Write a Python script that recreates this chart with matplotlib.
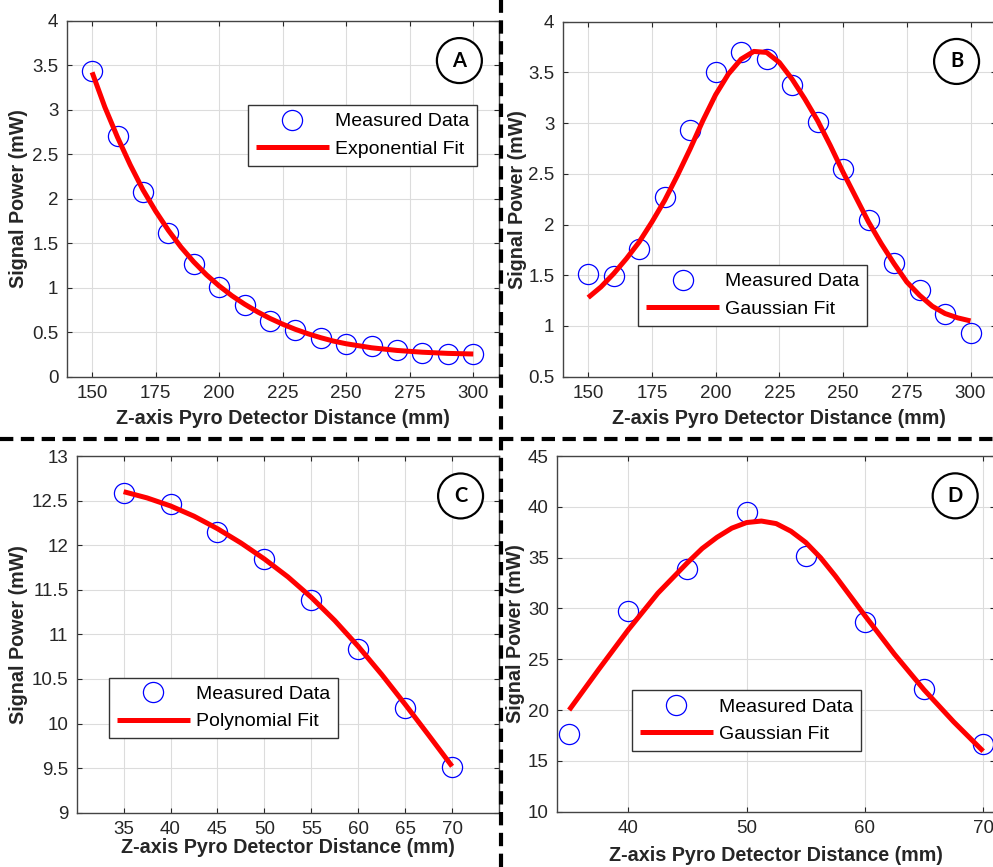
import matplotlib
matplotlib.use("Agg")
import matplotlib.pyplot as plt
from matplotlib.ticker import FormatStrFormatter
from matplotlib.lines import Line2D

plt.rcParams['font.family'] = 'Liberation Sans'

# (A) exponential decay, 150-300 mm
a_dist = [150, 160, 170, 180, 190, 200, 210, 220, 230, 240, 250, 260, 270, 280, 290, 300]
a_meas = [3.43, 2.70, 2.08, 1.62, 1.27, 1.01, 0.81, 0.63, 0.52, 0.44, 0.37, 0.34, 0.30, 0.27, 0.26, 0.255]
a_fit_x = [150, 155, 160, 165, 170, 175, 180, 185, 190, 195, 200, 205, 210, 215, 220, 225,
           230, 235, 240, 245, 250, 260, 270, 280, 290, 300]
a_fit_y = [3.42, 3.03, 2.69, 2.38, 2.10, 1.86, 1.645, 1.455, 1.29, 1.145, 1.02, 0.91, 0.815, 0.73,
           0.655, 0.59, 0.532, 0.482, 0.438, 0.40, 0.37, 0.325, 0.295, 0.275, 0.262, 0.255]

# (B) gaussian, 150-300 mm
b_dist = [150, 160, 170, 180, 190, 200, 210, 220, 230, 240, 250, 260, 270, 280, 290, 300]
b_meas = [1.51, 1.49, 1.76, 2.27, 2.93, 3.50, 3.70, 3.63, 3.375, 3.015, 2.55, 2.04, 1.62, 1.35, 1.12, 0.93]
b_fit_x = [150, 155, 160, 165, 170, 175, 180, 185, 190, 195, 200, 205, 210, 215, 220, 225,
           230, 235, 240, 245, 250, 255, 260, 265, 270, 275, 280, 285, 290, 295, 300]
b_fit_y = [1.28, 1.385, 1.516, 1.664, 1.828, 2.025, 2.238, 2.484, 2.746, 3.025, 3.28, 3.484,
           3.631, 3.707, 3.697, 3.598, 3.434, 3.238, 3.025, 2.779, 2.516, 2.27, 2.025, 1.811,
           1.615, 1.434, 1.303, 1.195, 1.123, 1.08, 1.05]

# (C) polynomial, 35-70 mm
c_dist = [35, 40, 45, 50, 55, 60, 65, 70]
c_meas = [12.58, 12.46, 12.15, 11.845, 11.385, 10.835, 10.17, 9.515]
c_fit_x = [35, 37.5, 40, 42.5, 45, 47.5, 50, 52.5, 55, 57.5, 60, 62.5, 65, 67.5, 70]
c_fit_y = [12.60, 12.53, 12.44, 12.325, 12.185, 12.025, 11.845, 11.645, 11.415, 11.155,
           10.865, 10.55, 10.215, 9.87, 9.52]

# (D) gaussian, 35-70 mm
d_dist = [35, 40, 45, 50, 55, 60, 65, 70]
d_meas = [17.6, 29.75, 33.85, 39.5, 35.15, 28.7, 22.05, 16.65]
d_fit_x = [35, 37.5, 40, 42.5, 45, 46.25, 47.5, 48.75, 50, 51.25, 52.5, 53.75, 55, 56.25,
           57.5, 60, 62.5, 65, 67.5, 70]
d_fit_y = [20.0, 24.0, 27.9, 31.5, 34.5, 35.9, 37.0, 37.9, 38.45, 38.6, 38.35, 37.6, 36.5,
           35.0, 33.2, 29.3, 25.5, 22.0, 18.85, 15.95]

W, H = 993, 867
fig = plt.figure(figsize=(W / 100, H / 100), dpi=100)

def make_axes(l, t, w, h):
    return fig.add_axes([l / W, 1 - (t + h) / H, w / W, h / H])

def style(ax, xlim, xticks, ylim, yticks, ylab_x, xlab_y):
    ax.set_xlim(*xlim)
    ax.set_ylim(*ylim)
    ax.set_xticks(xticks)
    ax.set_yticks(yticks)
    ax.yaxis.set_major_formatter(FormatStrFormatter('%g'))
    ax.grid(True, color='#dcdcdc', lw=0.8)
    ax.set_axisbelow(True)
    ax.tick_params(direction='in', length=3.5, width=0.8, top=True, right=True,
                   labelsize=13.5, labelcolor='#262626', color='#262626', pad=6)
    for s in ax.spines.values():
        s.set_color('#444444')
        s.set_linewidth(1.0)
    ax.set_xlabel('Z-axis Pyro Detector Distance (mm)', fontsize=14.2, fontweight='bold',
                  color='#262626')
    ax.set_ylabel('Signal Power (mW)', fontsize=14.2, fontweight='bold', color='#262626')
    ax.xaxis.set_label_coords(0.5, xlab_y)
    ax.yaxis.set_label_coords(ylab_x, 0.5)

def draw(ax, x, y, fx, fy, fit_label, leg_loc, leg_anchor, tag):
    ax.plot(x, y, 'o', mfc='none', mec='#0000ff', ms=14.5, mew=0.9, label='Measured Data')
    ax.plot(fx, fy, '-', color='#ff0000', lw=3.6, label=fit_label,
            solid_capstyle='butt', solid_joinstyle='round')
    leg = ax.legend(loc=leg_loc, bbox_to_anchor=leg_anchor, fontsize=14, fancybox=False,
                    framealpha=1, edgecolor='#333333', handlelength=3.75, handletextpad=0.3,
                    borderpad=0.4, labelspacing=0.5, borderaxespad=0)
    leg.get_frame().set_linewidth(1.0)
    ax.text(0.909, 0.888, tag, transform=ax.transAxes, ha='center', va='center',
            fontsize=14.5, fontweight='bold', family='Lato', zorder=5,
            bbox=dict(boxstyle='circle,pad=0.62', fc='white', ec='black', lw=1.6))

ax_a = make_axes(66.7, 20.7, 432, 356)
style(ax_a, (140, 310), range(150, 301, 25), (0, 4), [i * 0.5 for i in range(9)], -0.09, -0.092)
draw(ax_a, a_dist, a_meas, a_fit_x, a_fit_y, 'Exponential Fit', 'upper right', (0.949, 0.763), 'A')

ax_b = make_axes(562.7, 21.7, 433.3, 355)
style(ax_b, (140, 310), range(150, 301, 25), (0.5, 4), [0.5 + i * 0.5 for i in range(8)], -0.083, -0.092)
draw(ax_b, b_dist, b_meas, b_fit_x, b_fit_y, 'Gaussian Fit', 'lower left', (0.1745, 0.144), 'B')

ax_c = make_axes(76.7, 456, 422.3, 356.7)
style(ax_c, (30, 75), range(35, 71, 5), (9, 13), [9 + i * 0.5 for i in range(9)], -0.115, -0.07)
draw(ax_c, c_dist, c_meas, c_fit_x, c_fit_y, 'Polynomial Fit', 'lower left', (0.077, 0.209), 'C')

ax_d = make_axes(557.3, 456, 437.7, 355.7)
style(ax_d, (34, 71), range(40, 71, 10), (10, 45), range(10, 46, 5), -0.074, -0.097)
draw(ax_d, d_dist, d_meas, d_fit_x, d_fit_y, 'Gaussian Fit', 'lower left', (0.171, 0.171), 'D')

# dashed separators between the four panels
fig.add_artist(Line2D([501 / W, 501 / W], [0, 1], color='black', lw=3,
                      linestyle=(0, (3.2, 1.8))))
fig.add_artist(Line2D([0, 1], [1 - 439 / H, 1 - 439 / H], color='black', lw=3,
                      linestyle=(0, (3.2, 1.8))))

fig.savefig('out.png', dpi=100)
